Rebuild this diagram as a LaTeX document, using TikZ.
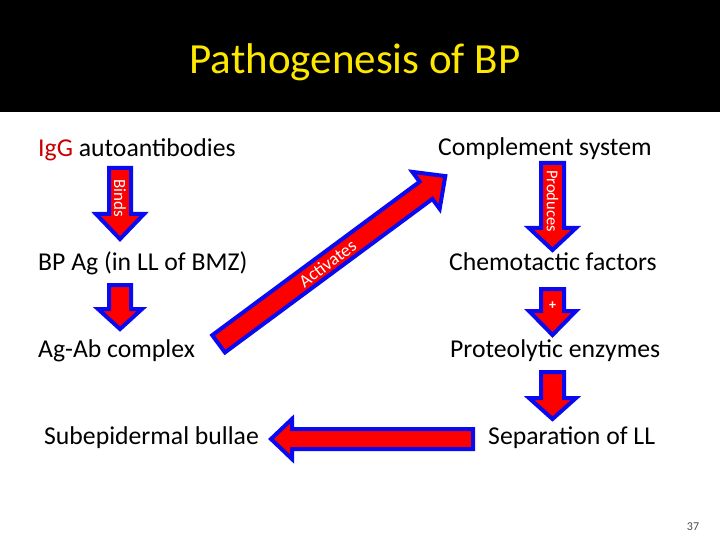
\documentclass[tikz,border=0pt]{standalone}
\usepackage{fontspec}
\setmainfont{Carlito}
\definecolor{titleyellow}{RGB}{255,232,0}
\definecolor{igred}{RGB}{200,0,0}
\definecolor{arrblue}{RGB}{10,10,240}
\newcommand\dnarrow[6]{%
  \draw[arr] ({#1-#5},#2) -- ({#1+#5},#2) -- ({#1+#5},#3) -- ({#1+#6},#3) -- (#1,#4)
    -- ({#1-#6},#3) -- ({#1-#5},#3) -- cycle;}
\begin{document}
\begin{tikzpicture}[x=1pt,y=-1pt,
  arr/.style={fill=red,draw=arrblue,line width=4pt,line join=miter},
  lbl/.style={anchor=base west,inner sep=0pt,font=\fontsize{25.7}{28}\selectfont,text=black},
  inarr/.style={inner sep=0pt,text=white,font=\fontsize{16.5}{18}\selectfont}]
\useasboundingbox (0,0) rectangle (720,540);
\fill[white] (0,0) rectangle (720,540);
\fill[black] (0,0) rectangle (720,112);
\node[anchor=base,inner sep=0pt,text=titleyellow,font=\fontsize{43}{47}\selectfont] (title) at (355,74) {Pathogenesis of BP};

% arrows
\dnarrow{120}{168}{214}{239}{11}{24}
\dnarrow{120}{285}{309}{329}{11}{22}
\dnarrow{552.5}{163}{228}{250}{11.5}{23.5}
\dnarrow{552.5}{289}{311}{335}{11.5}{23.5}
\dnarrow{552.5}{372}{398}{419}{11.5}{23.5}
\draw[arr] (271,439) -- (292,419) -- (292,429) -- (473,429) -- (473,449) -- (292,449) -- (292,459) -- cycle;
\begin{scope}[shift={(217,345)},rotate=36.5]
  \draw[arr] (2,-10.7) -- (260,-10.7) -- (260,-23) -- (284,0) -- (260,23) -- (260,10.7) -- (2,10.7) -- cycle;
\end{scope}

% labels inside arrows
\node[inarr,rotate=-90,font=\fontsize{17}{19}\selectfont] (binds) at (120,198) {Binds};
\node[inarr,rotate=-90] (produces) at (552.5,201) {Produces};
\node[inarr,font=\fontsize{14}{16}\bfseries] (plus) at (552.5,306) {+};
\node[inarr,rotate=36.5,font=\fontsize{18}{20}\selectfont] (activates) at (327.5,263.5) {Activates};

% texts
\node[lbl] (igg) at (38,157) {\textcolor{igred}{IgG} autoantibodies};
\node[lbl] (comp) at (438,156) {Complement system};
\node[lbl] (bpag) at (38,270) {BP Ag (in LL of BMZ)};
\node[lbl] (chemo) at (449,270) {Chemotactic factors};
\node[lbl] (agab) at (38,357) {Ag-Ab complex};
\node[lbl] (prot) at (450,357) {Proteolytic enzymes};
\node[lbl] (subep) at (44,444) {Subepidermal bullae};
\node[lbl] (sep) at (488,444) {Separation of LL};
\node[anchor=base,inner sep=0pt,text=black!70,font=\fontsize{12}{14}\selectfont] (page) at (693,530) {37};
\end{tikzpicture}
\end{document}
